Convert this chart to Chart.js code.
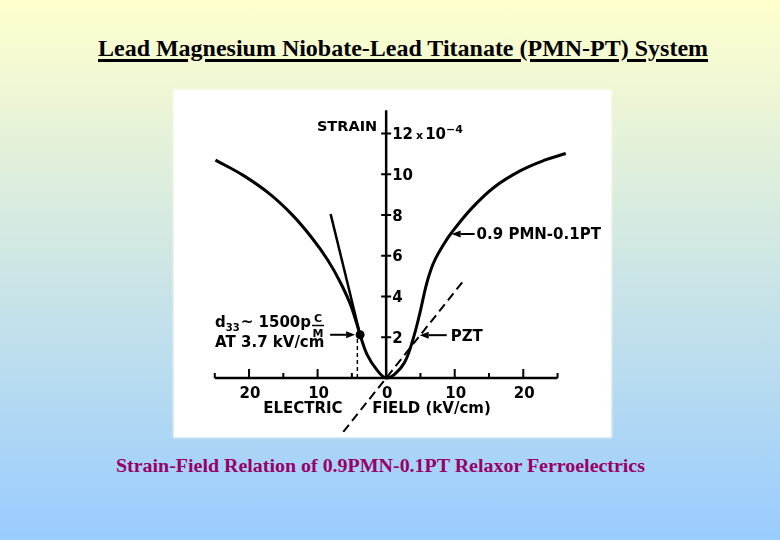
<!DOCTYPE html>
<html>
<head>
<meta charset="utf-8">
<title>PMN-PT strain-field</title>
<script src="https://cdn.jsdelivr.net/npm/chart.js@4.4.1/dist/chart.umd.min.js"></script>
<style>
    html, body { margin: 0; padding: 0; }
    body {
        width: 780px;
        height: 540px;
        overflow: hidden;
        position: relative;
        background: linear-gradient(to bottom, #ffffcc 0%, #99ccff 100%);
    }
    .slide-text {
        position: absolute;
        white-space: nowrap;
        font-family: "Liberation Serif", "Times New Roman", serif;
        font-weight: bold;
        transform-origin: left center;
    }
    #title {
        top: 34px;
        font-size: 24px;
        line-height: 28px;
        color: #000;
        text-decoration: underline;
        text-decoration-thickness: 2.5px;
        text-underline-offset: 3px;
    }
    #caption {
        top: 455px;
        font-size: 18px;
        line-height: 22px;
        color: #990066;
    }
    #figure {
        position: absolute;
        left: 174px;
        top: 90px;
        width: 437px;
        height: 347px;
        background: #fff;
        box-shadow: 0 0 2px 1px rgba(255, 255, 240, 0.8);
    }
</style>
</head>
<body>
<div id="title" class="slide-text">Lead Magnesium Niobate-Lead Titanate (PMN-PT) System</div>
<div id="figure"><canvas id="strainChart" width="437" height="347"></canvas></div>
<div id="caption" class="slide-text">Strain-Field Relation of 0.9PMN-0.1PT Relaxor Ferroelectrics</div>

<script>
// electric field in kV/cm (left half = reversed field), strain in units of 1e-4
const fieldKV   = [-24.9, -20.9, -17.0, -13.7, -10.9, -8.5, -6.6, -5.1, -3.8, -2.8, -1.3, 0,
                   1.3, 2.7, 3.9, 4.9, 5.8, 6.5, 7.2, 8.3, 9.4, 12.5, 15.8, 19.6, 23.0, 26.2];
const strainPMN = [10.7, 9.96, 9.04, 8.01, 6.91, 5.78, 4.64, 3.51, 2.12, 1.16, 0.37, 0,
                   0.2, 0.77, 1.88, 3.16, 4.5, 5.29, 5.86, 6.51, 7.07, 8.34, 9.38, 10.18, 10.68, 11.02];

// slope line drawn at the d33 point
const tangentField  = [-8.1, -3.8];
const tangentStrain = [8.05, 2.12];

// PZT reference (dashed)
const pztField  = [-6.25, 11.3];
const pztStrain = [-2.65, 4.78];

// marked point and its drop line
const markField  = [-3.8];
const markStrain = [2.12];
const dropField  = [-4.2, -4.2];
const dropStrain = [0, 2.0];

// axis ticks
const xMajorTicks  = [-20, -10, 0, 10, 20];
const xMajorLabels = ['20', '10', '0', '10', '20'];
const xMinorTicks  = [-25, -15, -5, 5, 15, 25];
const yTicks       = [2, 4, 6, 8, 10, 12];
const yTickLabels  = ['2', '4', '6', '8', '10', '12'];

const pts = (xs, ys) => xs.map((x, i) => ({ x: x, y: ys[i] }));

function fitText(id, left, width) {
    const el = document.getElementById(id);
    el.style.left = left + 'px';
    const w = el.getBoundingClientRect().width;
    el.style.transform = 'scaleX(' + (width / w) + ')';
}
fitText('title', 98, 610);
fitText('caption', 116, 529);

const FONT = '"DejaVu Sans", sans-serif';

function arrow(ctx, fromX, fromY, toX, toY) {
    const ang = Math.atan2(toY - fromY, toX - fromX);
    const len = 9, half = 3.5;
    ctx.beginPath();
    ctx.moveTo(fromX, fromY);
    ctx.lineTo(toX - Math.cos(ang) * len, toY - Math.sin(ang) * len);
    ctx.stroke();
    ctx.beginPath();
    ctx.moveTo(toX, toY);
    ctx.lineTo(toX - Math.cos(ang) * len - Math.sin(ang) * half, toY - Math.sin(ang) * len + Math.cos(ang) * half);
    ctx.lineTo(toX - Math.cos(ang) * len + Math.sin(ang) * half, toY - Math.sin(ang) * len - Math.cos(ang) * half);
    ctx.closePath();
    ctx.fill();
}

// Axes crossing at the origin, drawn from the chart's own scales
const crossAxes = {
    id: 'crossAxes',
    beforeDatasetsDraw(chart) {
        const { ctx, scales: { x, y } } = chart;
        const x0 = x.getPixelForValue(0);
        const y0 = y.getPixelForValue(0);
        ctx.save();
        ctx.strokeStyle = '#000';
        ctx.fillStyle = '#000';
        ctx.lineWidth = 2.5;
        ctx.beginPath();
        ctx.moveTo(x.getPixelForValue(-25), y0);
        ctx.lineTo(x.getPixelForValue(25), y0);
        ctx.moveTo(x0, y0);
        ctx.lineTo(x0, y.getPixelForValue(13.15));
        ctx.stroke();

        ctx.lineWidth = 2;
        ctx.beginPath();
        xMajorTicks.forEach(v => {
            const p = x.getPixelForValue(v);
            ctx.moveTo(p, y0);
            ctx.lineTo(p, y0 - 9);
        });
        xMinorTicks.forEach(v => {
            const p = x.getPixelForValue(v);
            ctx.moveTo(p, y0);
            ctx.lineTo(p, y0 - 5);
        });
        yTicks.forEach(v => {
            const p = y.getPixelForValue(v);
            ctx.moveTo(x0 - 5, p);
            ctx.lineTo(x0 + 5, p);
        });
        ctx.stroke();

        // tick labels
        ctx.font = 'bold 15px ' + FONT;
        ctx.textBaseline = 'alphabetic';
        ctx.textAlign = 'center';
        xMajorTicks.forEach((v, i) => {
            ctx.fillText(xMajorLabels[i], x.getPixelForValue(v) + 1, y0 + 20);
        });
        ctx.textAlign = 'left';
        yTicks.forEach((v, i) => {
            const p = y.getPixelForValue(v) + 5.5;
            ctx.font = 'bold 15px ' + FONT;
            ctx.fillText(yTickLabels[i], x0 + 6, p);
            if (i === yTicks.length - 1) {
                let cx = x0 + 6 + ctx.measureText(yTickLabels[i]).width + 3;
                ctx.font = 'bold 11px ' + FONT;
                ctx.fillText('x', cx, p);
                cx += ctx.measureText('x').width + 2;
                ctx.font = 'bold 15px ' + FONT;
                ctx.fillText('10', cx, p);
                cx += ctx.measureText('10').width;
                ctx.font = 'bold 11px ' + FONT;
                ctx.fillText('\u22124', cx, p - 6);
            }
        });

        // axis titles
        ctx.font = 'bold 14.5px ' + FONT;
        ctx.textAlign = 'right';
        ctx.fillText('STRAIN', x0 - 9, y.getPixelForValue(12) - 2.5);
        ctx.textAlign = 'left';
        ctx.font = 'bold 15px ' + FONT;
        ctx.fillText('ELECTRIC', x0 - 123, y0 + 35);
        ctx.fillText('FIELD (kV/cm)', x0 - 14, y0 + 35);
        ctx.restore();
    }
};

// Call-outs with arrows
const callouts = {
    id: 'callouts',
    afterDatasetsDraw(chart) {
        const { ctx, scales: { x, y } } = chart;
        ctx.save();
        ctx.strokeStyle = '#000';
        ctx.fillStyle = '#000';
        ctx.lineWidth = 2;
        ctx.textAlign = 'left';
        ctx.textBaseline = 'alphabetic';

        // 0.9 PMN-0.1PT
        const ax = x.getPixelForValue(9.4) + 1, ay = y.getPixelForValue(7.07);
        arrow(ctx, ax + 23, ay, ax, ay);
        ctx.font = 'bold 15px ' + FONT;
        ctx.fillText('0.9 PMN-0.1PT', ax + 25, ay + 5.5);

        // PZT
        const bx = x.getPixelForValue(4.9), by = y.getPixelForValue(2.1);
        arrow(ctx, bx + 27, by, bx, by);
        ctx.fillText('PZT', bx + 31, by + 5.5);

        // d33 note
        const mx = x.getPixelForValue(markField[0]), my = y.getPixelForValue(markStrain[0]);
        arrow(ctx, mx - 30, my, mx - 5, my);
        let cx = mx - 145;
        const base1 = my - 8;
        ctx.font = 'bold 15px ' + FONT;
        ctx.fillText('d', cx, base1);
        cx += ctx.measureText('d').width;
        ctx.font = 'bold 10px ' + FONT;
        ctx.fillText('33', cx, base1 + 4);
        cx += ctx.measureText('33').width + 1;
        ctx.font = 'bold 15px ' + FONT;
        ctx.fillText('~ 1500p', cx, base1);
        cx += ctx.measureText('~ 1500p').width + 1;
        ctx.font = 'bold 11px ' + FONT;
        ctx.textAlign = 'center';
        ctx.fillText('C', cx + 6, base1 - 5);
        ctx.fillText('M', cx + 6, base1 + 10);
        ctx.fillRect(cx, base1 - 2, 12, 1.5);
        ctx.textAlign = 'left';
        ctx.font = 'bold 15px ' + FONT;
        ctx.fillText('AT 3.7 kV/cm', mx - 145, my + 12);
        ctx.restore();
    }
};

const ctx = document.getElementById('strainChart').getContext('2d');
const line = { borderColor: '#000', backgroundColor: '#000', pointRadius: 0, fill: false };

const strainChart = new Chart(ctx, {
    type: 'line',
    data: {
        datasets: [
            {
                ...line,
                label: '0.9 PMN-0.1PT',
                data: pts(fieldKV, strainPMN),
                borderWidth: 3,
                tension: 0.4
            },
            {
                ...line,
                label: 'slope',
                data: pts(tangentField, tangentStrain),
                borderWidth: 2.5
            },
            {
                ...line,
                label: 'PZT',
                data: pts(pztField, pztStrain),
                borderWidth: 2,
                borderDash: [9, 5]
            },
            {
                ...line,
                label: 'drop',
                data: pts(dropField, dropStrain),
                borderWidth: 1.5,
                borderDash: [4, 3]
            },
            {
                ...line,
                label: 'd33 point',
                data: pts(markField, markStrain),
                showLine: false,
                pointRadius: 4.5,
                pointBorderWidth: 0,
                pointBackgroundColor: '#000'
            }
        ]
    },
    options: {
        responsive: false,
        animation: false,
        events: [],
        layout: { padding: 0 },
        plugins: {
            legend: { display: false },
            tooltip: { enabled: false }
        },
        scales: {
            x: { type: 'linear', min: -30.29, max: 32.14, display: false },
            y: { type: 'linear', min: -2.68, max: 13.92, display: false }
        }
    },
    plugins: [crossAxes, callouts]
});
</script>
</body>
</html>
